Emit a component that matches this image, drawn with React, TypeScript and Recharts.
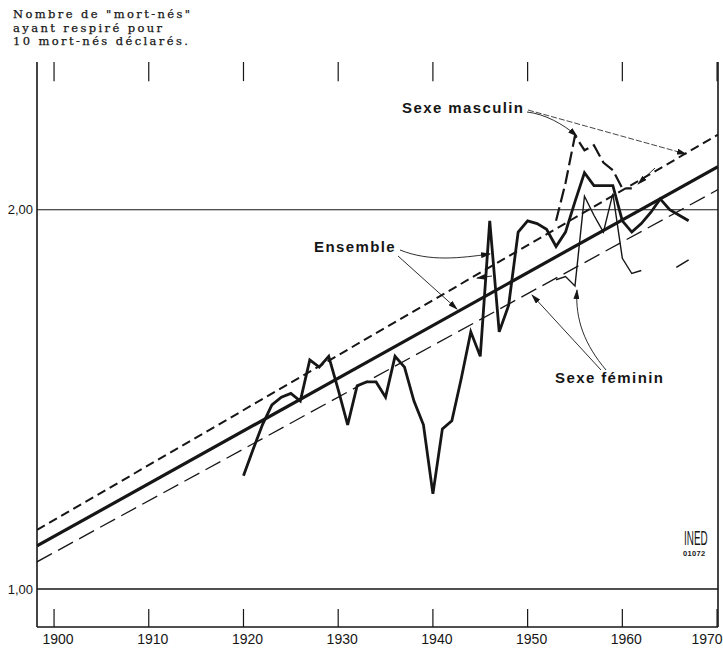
import { LineChart, Line, XAxis, YAxis, ReferenceLine } from 'recharts';

// Nombre de "mort-nés" ayant respiré pour 10 mort-nés déclarés (échelle log)
const ensembleYears = [
  1920, 1921, 1922, 1923, 1924, 1925, 1926, 1927, 1928, 1929,
  1930, 1931, 1932, 1933, 1934, 1935, 1936, 1937, 1938, 1939,
  1940, 1941, 1942, 1943, 1944, 1945, 1946, 1947, 1948, 1949,
  1950, 1951, 1952, 1953, 1954, 1955, 1956, 1957, 1958, 1959,
  1960, 1961, 1962, 1963, 1964, 1965, 1966, 1967,
];
const ensembleValues = [
  1.23, 1.29, 1.35, 1.40, 1.42, 1.43, 1.41, 1.52, 1.50, 1.53,
  1.44, 1.35, 1.45, 1.46, 1.46, 1.42, 1.53, 1.50, 1.41, 1.35,
  1.19, 1.34, 1.36, 1.47, 1.60, 1.53, 1.96, 1.60, 1.68, 1.92,
  1.96, 1.95, 1.93, 1.87, 1.92, 2.03, 2.14, 2.09, 2.09, 2.09,
  1.96, 1.92, 1.95, 1.99, 2.04, 2.00, 1.98, 1.96,
];

const masculinYears = [1953, 1954, 1955, 1956, 1957, 1958, 1959, 1960, 1961];
const masculinValues = [1.96, 2.10, 2.29, 2.23, 2.25, 2.18, 2.15, 2.08, 2.08];

const femininYears = [1953, 1954, 1955, 1956, 1957, 1958, 1959, 1960, 1961, 1962];
const femininValues = [1.76, 1.77, 1.74, 2.05, 1.98, 1.92, 2.06, 1.83, 1.78, 1.79];

const femininTailYears = [1965.7, 1967];
const femininTailValues = [1.80, 1.825];

// droites d'ajustement
const trendYears = [1898.2, 1970.1];
const trendEnsemble = [1.082, 2.164];
const trendMasculin = [1.114, 2.294];
const trendFeminin = [1.051, 2.075];

const xTicks = [1900, 1910, 1920, 1930, 1940, 1950, 1960, 1970];
const yTicks = [1, 2];
const yTickLabels: Record<number, string> = { 1: '1,00', 2: '2,00' };
const titleLines = ['Nombre de "mort-nés"', 'ayant respiré pour', '10 mort-nés déclarés.'];

const X_DOMAIN = [1898.2, 1970.1];
const Y_DOMAIN = [0.933, 2.62];
const TOP_TICK_END = 2.53; // bas des petits traits du cadre supérieur

const toRows = (xs: number[], ys: number[]) => xs.map((year, i) => ({ year, v: ys[i] }));

const INK = '#161616';
const SANS = "'Liberation Sans', Arial, sans-serif";

function BottomTick(props: any) {
  const { x, y, payload } = props;
  return (
    <g>
      <line x1={x} x2={x} y1={y - 18} y2={y} stroke={INK} strokeWidth={1.2} />
      <text x={Math.min(x + 4, 707)} y={y + 17} textAnchor="middle" fontSize={14} fontFamily={SANS} fill={INK}>
        {payload.value}
      </text>
    </g>
  );
}

export default function App() {
  return (
    <div style={{ position: 'absolute', left: 0, top: 0, width: 723, height: 648, background: '#fff', overflow: 'hidden' }}>
      <LineChart width={723} height={648} margin={{ top: 62, right: 5, bottom: 0, left: 0 }}>
        <XAxis
          dataKey="year"
          type="number"
          domain={X_DOMAIN}
          ticks={xTicks}
          interval={0}
          allowDataOverflow
          height={21}
          tickSize={0}
          tickMargin={0}
          tickLine={false}
          axisLine={{ stroke: INK, strokeWidth: 1.6 }}
          tick={<BottomTick />}
        />
        <XAxis
          xAxisId="top"
          orientation="top"
          dataKey="year"
          type="number"
          domain={X_DOMAIN}
          allowDataOverflow
          height={0}
          tick={false}
          tickLine={false}
          axisLine={{ stroke: INK, strokeWidth: 1.6 }}
        />
        <YAxis
          type="number"
          scale="log"
          domain={Y_DOMAIN}
          allowDataOverflow
          ticks={yTicks}
          width={37}
          tickLine={false}
          tickSize={0}
          tickMargin={4}
          axisLine={{ stroke: INK, strokeWidth: 1.6 }}
          tick={{ fill: INK, fontSize: 13, fontFamily: SANS }}
          tickFormatter={(v: number) => yTickLabels[v] ?? String(v)}
        />
        <ReferenceLine y={1} stroke={INK} strokeWidth={1.4} />
        <ReferenceLine y={2} stroke={INK} strokeWidth={1.2} />
        <ReferenceLine x={X_DOMAIN[1]} stroke={INK} strokeWidth={1.6} />
        {xTicks.map((t) => (
          <ReferenceLine
            key={t}
            segment={[{ x: t, y: Y_DOMAIN[1] }, { x: t, y: TOP_TICK_END }]}
            stroke={INK}
            strokeWidth={1.2}
          />
        ))}

        <Line data={toRows(trendYears, trendEnsemble)} dataKey="v" type="linear" stroke={INK} strokeWidth={3.2} dot={false} activeDot={false} isAnimationActive={false} />
        <Line data={toRows(trendYears, trendMasculin)} dataKey="v" type="linear" stroke={INK} strokeWidth={2} strokeDasharray="9 5" dot={false} activeDot={false} isAnimationActive={false} />
        <Line data={toRows(trendYears, trendFeminin)} dataKey="v" type="linear" stroke={INK} strokeWidth={1.3} strokeDasharray="17 7" dot={false} activeDot={false} isAnimationActive={false} />

        <Line data={toRows(ensembleYears, ensembleValues)} dataKey="v" type="linear" stroke={INK} strokeWidth={2.8} strokeLinejoin="miter" dot={false} activeDot={false} isAnimationActive={false} />
        <Line data={toRows(masculinYears, masculinValues)} dataKey="v" type="linear" stroke={INK} strokeWidth={2.2} strokeDasharray="14 5" dot={false} activeDot={false} isAnimationActive={false} />
        <Line data={toRows(femininYears, femininValues)} dataKey="v" type="linear" stroke={INK} strokeWidth={1.4} dot={false} activeDot={false} isAnimationActive={false} />
        <Line data={toRows(femininTailYears, femininTailValues)} dataKey="v" type="linear" stroke={INK} strokeWidth={1.6} dot={false} activeDot={false} isAnimationActive={false} />
      </LineChart>

      <svg width={723} height={648} style={{ position: 'absolute', left: 0, top: 0, pointerEvents: 'none' }}>
        <defs>
          <marker id="arr" markerWidth={10} markerHeight={6} refX={9} refY={3} orient="auto" markerUnits="userSpaceOnUse">
            <path d="M0,0 L10,3 L0,6 Z" fill={INK} />
          </marker>
        </defs>

        {titleLines.map((t, i) => (
          <text key={t} x={13} y={18 + i * 13.5} fontSize={11.5} letterSpacing={2.4} fontFamily="'DejaVu Serif', serif" fill={INK} stroke={INK} strokeWidth={0.25}>
            {t}
          </text>
        ))}

        <text x={402} y={113} fontSize={15} fontWeight="bold" letterSpacing={1.4} fontFamily={SANS} fill={INK}>Sexe masculin</text>
        <path d="M527,112 C545,114 563,124 577,136" fill="none" stroke={INK} strokeWidth={0.9} markerEnd="url(#arr)" />
        <path d="M528,110 L686,154" fill="none" stroke={INK} strokeWidth={0.8} strokeDasharray="6 2" markerEnd="url(#arr)" />
        <path d="M655,168 L638,184" fill="none" stroke={INK} strokeWidth={0.9} markerEnd="url(#arr)" />

        <text x={314} y={252} fontSize={15} fontWeight="bold" letterSpacing={1.4} fontFamily={SANS} fill={INK}>Ensemble</text>
        <path d="M400,250 C430,262 460,258 490,254" fill="none" stroke={INK} strokeWidth={0.9} markerEnd="url(#arr)" />
        <path d="M398,256 L457,309" fill="none" stroke={INK} strokeWidth={0.9} markerEnd="url(#arr)" />
        <path d="M492,276 L477,278" fill="none" stroke={INK} strokeWidth={0.9} markerEnd="url(#arr)" />

        <text x={555} y={383} fontSize={15} fontWeight="bold" letterSpacing={1.4} fontFamily={SANS} fill={INK}>Sexe féminin</text>
        <path d="M601,370 L532,295" fill="none" stroke={INK} strokeWidth={0.9} markerEnd="url(#arr)" />
        <path d="M606,370 C585,345 575,320 577,290" fill="none" stroke={INK} strokeWidth={0.9} markerEnd="url(#arr)" />

        <g transform="translate(684,545) scale(0.55,1.15)">
          <text x={0} y={0} fontSize={18} fontFamily={SANS} fill={INK}>INED</text>
        </g>
        <text x={683} y={556} fontSize={7.5} fontWeight="bold" letterSpacing={0.3} fontFamily={SANS} fill={INK}>01072</text>
      </svg>
    </div>
  );
}
